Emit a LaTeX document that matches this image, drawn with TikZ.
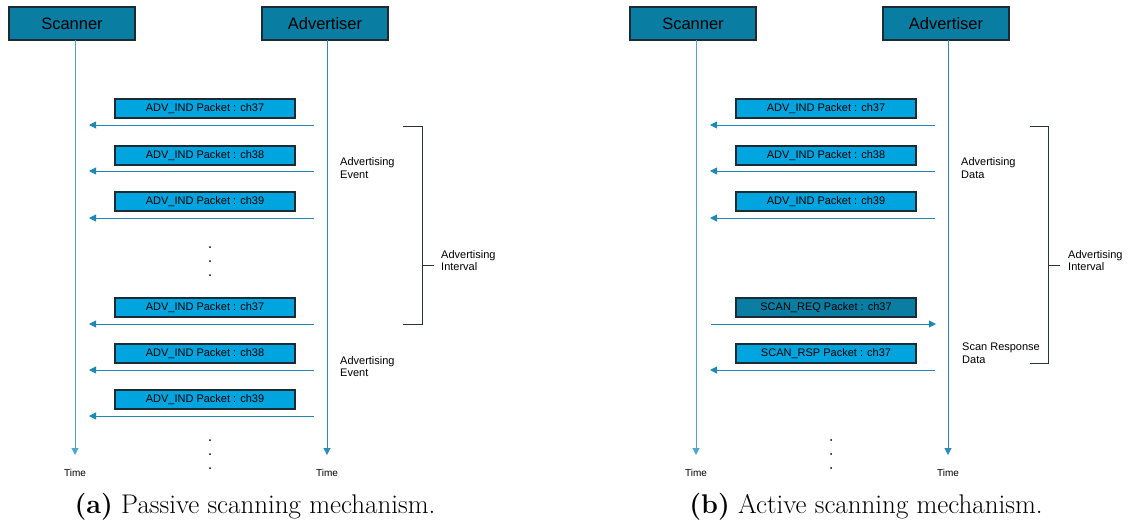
\documentclass[tikz,border=0pt]{standalone}
\usepackage{fontspec}
\newfontfamily\arial{Liberation Sans}
\usetikzlibrary{arrows.meta}
\definecolor{hdr}{HTML}{0A7DA3}
\definecolor{pkt}{HTML}{00A5E0}
\definecolor{edge}{HTML}{1B2B33}
\definecolor{life}{HTML}{4FA8CC}
\definecolor{lifedark}{HTML}{2A8DB6}
\definecolor{msg}{HTML}{1E88B4}
\definecolor{bracket}{HTML}{2A3338}
\tikzset{
  actor/.style={draw=edge, line width=1.2pt, fill=hdr, minimum width=126pt,
    minimum height=33pt, inner sep=0, font=\arial\fontsize{16.5}{18}\selectfont},
  packet/.style={draw=edge, line width=1.2pt, fill=pkt, minimum width=180pt,
    minimum height=19pt, inner sep=0, font=\arial\fontsize{11}{12}\selectfont},
  reqpacket/.style={packet, fill=hdr},
  msgline/.style={draw=msg, line width=0.9pt, -{Triangle[length=7pt,width=7pt]}},
  lifeline/.style={draw=life, line width=1pt, -{Triangle[length=7pt,width=7pt]}},
  advline/.style={lifeline, draw=lifedark},
  note/.style={anchor=west, align=left, inner sep=0,
    font=\arial\fontsize{11}{12.5}\selectfont},
  timelbl/.style={inner sep=0, font=\arial\fontsize{10}{12}\selectfont},
  brace/.style={draw=bracket, line width=1pt},
  edot/.style={circle, fill=black, inner sep=0, minimum size=2pt},
  capt/.style={inner sep=0, font=\fontsize{27}{30}\selectfont},
}
\begin{document}
\begin{tikzpicture}[x=1pt, y=-1pt]
\useasboundingbox (0,0) rectangle (1128,520);

% ---------------- (a) passive scanning ----------------
\node[actor] (scA) at (72,23.5) {Scanner};
\node[actor] (adA) at (325,23.5) {Advertiser};
\coordinate (scAtop) at (75,40);  \coordinate (scAend) at (75,455);
\coordinate (adAtop) at (327,40); \coordinate (adAend) at (327,455);
\draw[lifeline] (scAtop) -- (scAend);
\draw[advline] (adAtop) -- (adAend);
\node[timelbl] (tA1) at (75,473) {Time};
\node[timelbl] (tA2) at (327,473) {Time};

\foreach \i/\by/\ay/\ch in {1/108.5/125/37, 2/155.5/171/38, 3/201.5/218/39,
                             4/307.5/324/37, 5/353.5/370/38, 6/399.5/416/39} {
  \node[packet] (pA\i) at (205,\by) {ADV\_IND Packet : ch\ch};
  \coordinate (fromA\i) at (314,\ay);
  \coordinate (toA\i) at (89,\ay);
  \draw[msgline] (fromA\i) -- (toA\i);
}
\foreach \j/\dy in {1/247, 2/261, 3/275} { \node[edot] (dA\j) at (210,\dy) {}; }
\foreach \j/\dy in {1/440, 2/454, 3/468} { \node[edot] (eA\j) at (210,\dy) {}; }

\node[note] (evA1) at (340,168) {Advertising\\Event};
\node[note] (evA2) at (340,366.5) {Advertising\\Event};

\coordinate (brA1) at (403,126); \coordinate (brA2) at (422,126);
\coordinate (brA3) at (422,324); \coordinate (brA4) at (403,324);
\coordinate (brAm) at (422,265); \coordinate (brAt) at (434,265);
\draw[brace] (brA1) -- (brA2) -- (brA3) -- (brA4);
\draw[brace] (brAm) -- (brAt);
\node[note] (ivA) at (441,260.5) {Advertising\\Interval};

\node[capt] (capA) at (255,507) {\textbf{(a)} Passive scanning mechanism.};

% ---------------- (b) active scanning ----------------
\node[actor] (scB) at (693,23.5) {Scanner};
\node[actor] (adB) at (946,23.5) {Advertiser};
\coordinate (scBtop) at (696,40);  \coordinate (scBend) at (696,455);
\coordinate (adBtop) at (948,40);  \coordinate (adBend) at (948,455);
\draw[lifeline] (scBtop) -- (scBend);
\draw[advline] (adBtop) -- (adBend);
\node[timelbl] (tB1) at (696,473) {Time};
\node[timelbl] (tB2) at (948,473) {Time};

\foreach \i/\by/\ay/\ch in {1/108.5/125/37, 2/155.5/171/38, 3/201.5/218/39} {
  \node[packet] (pB\i) at (826,\by) {ADV\_IND Packet : ch\ch};
  \coordinate (fromB\i) at (935,\ay);
  \coordinate (toB\i) at (710,\ay);
  \draw[msgline] (fromB\i) -- (toB\i);
}
\node[reqpacket] (reqB) at (826,307.5) {SCAN\_REQ Packet : ch37};
\coordinate (reqFrom) at (711,324); \coordinate (reqTo) at (936,324);
\draw[msgline] (reqFrom) -- (reqTo);
\node[packet] (rspB) at (826,353.5) {SCAN\_RSP Packet : ch37};
\coordinate (rspFrom) at (935,370); \coordinate (rspTo) at (710,370);
\draw[msgline] (rspFrom) -- (rspTo);
\foreach \j/\dy in {1/440, 2/454, 3/468} { \node[edot] (eB\j) at (831,\dy) {}; }

\node[note] (dtB) at (961,168) {Advertising\\Data};
\node[note] (srB) at (962,353) {Scan Response\\Data};

\coordinate (brB1) at (1030,126); \coordinate (brB2) at (1048,126);
\coordinate (brB3) at (1048,363); \coordinate (brB4) at (1030,363);
\coordinate (brBm) at (1048,265); \coordinate (brBt) at (1060,265);
\draw[brace] (brB1) -- (brB2) -- (brB3) -- (brB4);
\draw[brace] (brBm) -- (brBt);
\node[note] (ivB) at (1068,260.5) {Advertising\\Interval};

\node[capt] (capB) at (866,507) {\textbf{(b)} Active scanning mechanism.};
\end{tikzpicture}
\end{document}
